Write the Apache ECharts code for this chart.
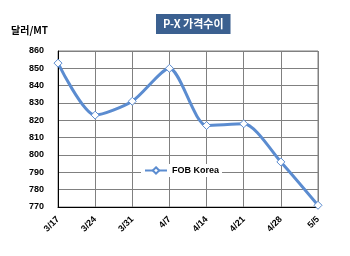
<!DOCTYPE html>
<html><head><meta charset="utf-8">
<script src="https://cdn.jsdelivr.net/npm/echarts@6/dist/echarts.min.js"></script>
<style>html,body{margin:0;padding:0;background:#fff}#c{width:350px;height:256px}</style>
</head><body><div id="c"></div>
<script>
const categories = ['3/17','3/24','3/31','4/7','4/14','4/21','4/28','5/5'];
const fobKorea = [853, 823, 831, 850, 817, 818, 796, 771];
const yTicks = {min: 770, max: 860, step: 10};

const chart = echarts.init(document.getElementById('c'));
chart.setOption({
  animation: false,
  backgroundColor: '#fff',
  title: {
    text: 'P-X 가격수이',
    left: 156, top: 14,
    backgroundColor: '#3b6090',
    padding: [4, 7, 5, 7],
    textStyle: {color: '#fff', fontSize: 11, fontWeight: 'bold', fontFamily: 'Noto Sans CJK KR'}
  },
  graphic: [{
    type: 'text', left: 11, top: 25,
    style: {text: '달러/MT', fontSize: 10, fontWeight: 'bold', fill: '#000', fontFamily: 'Noto Sans CJK KR'}
  }],
  legend: {
    data: ['FOB Korea'],
    left: 141, top: 164,
    backgroundColor: '#fff',
    padding: [2, 3],
    itemWidth: 22, itemHeight: 8, itemGap: 2,
    textStyle: {fontSize: 9, fontWeight: 'bold', color: '#000', fontFamily: 'Liberation Sans'}
  },
  grid: {left: 58, top: 51, right: 32, bottom: 49, show: true, borderColor: '#808080', borderWidth: 1},
  xAxis: {
    type: 'category', data: categories, boundaryGap: false,
    axisLine: {lineStyle: {color: '#000'}},
    axisTick: {show: false},
    splitLine: {show: true, lineStyle: {color: '#808080', width: 1}},
    axisLabel: {rotate: 45, fontSize: 9, fontWeight: 'bold', color: '#000', margin: 11, fontFamily: 'Liberation Sans'}
  },
  yAxis: {
    type: 'value', min: yTicks.min, max: yTicks.max, interval: yTicks.step,
    axisLine: {show: true, lineStyle: {color: '#000'}},
    axisTick: {show: false},
    splitLine: {show: true, lineStyle: {color: '#808080', width: 1}},
    axisLabel: {fontSize: 9, fontWeight: 'bold', color: '#000', margin: 14, fontFamily: 'Liberation Sans'}
  },
  series: [{
    name: 'FOB Korea', type: 'line', data: fobKorea, smooth: 0.25,
    symbol: 'diamond', symbolSize: 8,
    lineStyle: {color: '#5b8cd0', width: 3},
    itemStyle: {color: '#fff', borderColor: '#5b8cd0', borderWidth: 1}
  }]
});
</script></body></html>
